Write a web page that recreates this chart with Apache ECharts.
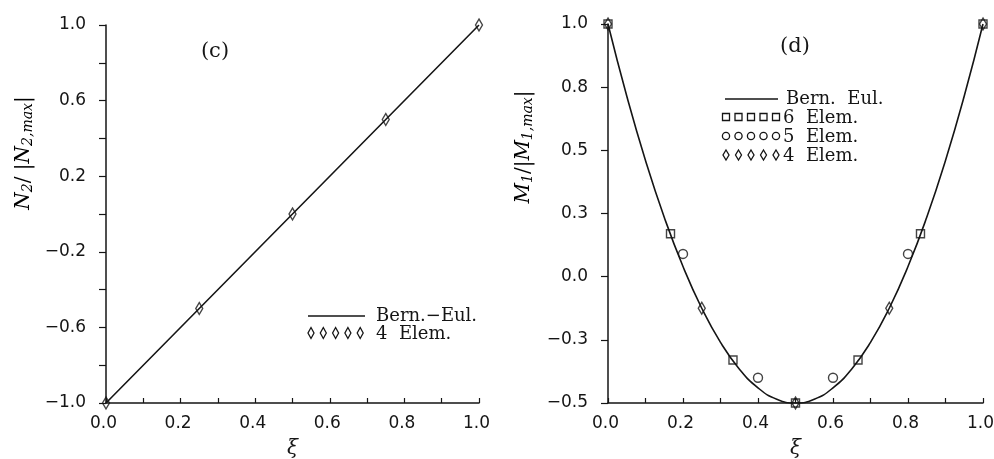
<!DOCTYPE html>
<html>
<head>
<meta charset="utf-8">
<script src="https://cdn.jsdelivr.net/npm/echarts@6/dist/echarts.min.js"></script>
<style>
  html, body { margin: 0; padding: 0; background: #fff; }
  #chart { width: 994px; height: 459px; }
</style>
</head>
<body>
<div id="chart"></div>
<script>
// ---- Panel (c): normalised normal force N2 along the beam ----
const xiC = [0.0, 0.25, 0.5, 0.75, 1.0];
const bernEulC = [-1.0, -0.5, 0.0, 0.5, 1.0];
const elem4C = [-1.0, -0.5, 0.0, 0.5, 1.0];

// ---- Panel (d): normalised bending moment M1 ----
const xiCurveD = [0.0, 0.05, 0.10, 0.15, 0.20, 0.25, 0.30, 0.35, 0.40, 0.45, 0.50,
                  0.55, 0.60, 0.65, 0.70, 0.75, 0.80, 0.85, 0.90, 0.95, 1.0];
const bernEulD = [1.0, 0.715, 0.46, 0.235, 0.04, -0.125, -0.26, -0.365, -0.44, -0.485, -0.5,
                  -0.485, -0.44, -0.365, -0.26, -0.125, 0.04, 0.235, 0.46, 0.715, 1.0];
const xi6 = [0.0, 0.1667, 0.3333, 0.5, 0.6667, 0.8333, 1.0];
const elem6D = [1.0, 0.17, -0.33, -0.5, -0.33, 0.17, 1.0];
const xi5 = [0.0, 0.2, 0.4, 0.6, 0.8, 1.0];
const elem5D = [1.04, 0.09, -0.40, -0.40, 0.09, 1.04];
const xi4 = [0.0, 0.25, 0.5, 0.75, 1.0];
const elem4D = [1.0, -0.125, -0.5, -0.125, 1.0];

// ---- Tick labels ----
const xTickLabels = ['0.0', '', '0.2', '', '0.4', '', '0.6', '', '0.8', '', '1.0'];
const yTickLabelsC = ['\u22121.0', '', '\u22120.6', '', '\u22120.2', '', '0.2', '', '0.6', '', '1.0'];
const yTickLabelsD = ['\u22120.5', '\u22120.3', '0.0', '0.3', '0.5', '0.8', '1.0'];

const INK = '#151515';
const pairs = (xs, ys) => xs.map((x, i) => [x, ys[i]]);

function xAxisCfg(gridIndex) {
  return {
    type: 'value', gridIndex, min: 0, max: 1, interval: 0.1,
    name: '\u03BE', nameLocation: 'middle', nameGap: 36,
    nameTextStyle: { fontFamily: 'DejaVu Serif', fontStyle: 'italic', fontSize: 20, color: INK },
    axisLine: { show: true, onZero: false, lineStyle: { color: INK, width: 1.5 } },
    axisTick: { show: true, inside: true, length: 5, lineStyle: { color: INK, width: 1.2 } },
    axisLabel: { margin: 12, fontFamily: 'DejaVu Sans', fontSize: 17, color: INK,
                 padding: [0, 5, 0, 0],
                 formatter: (v, i) => xTickLabels[i] },
    splitLine: { show: false }
  };
}

function yAxisCfg(gridIndex, min, max, interval, labels) {
  return {
    type: 'value', gridIndex, min, max, interval,
    axisLine: { show: true, onZero: false, lineStyle: { color: INK, width: 1.5 } },
    axisTick: { show: true, inside: false, length: 7, lineStyle: { color: INK, width: 1.2 } },
    axisLabel: { margin: 20, fontFamily: 'DejaVu Sans', fontSize: 17, color: INK,
                 formatter: (v, i) => labels[i] },
    splitLine: { show: false }
  };
}

const hollow = { color: 'rgba(0,0,0,0)', borderColor: INK, borderWidth: 1.4 };
const curveStyle = { color: INK, width: 1.6 };

// Legend symbol helpers (drawn as graphic shapes)
function diamondShape(cx, cy, w, h) {
  return { type: 'polygon', shape: { points: [[cx, cy - h / 2], [cx + w / 2, cy], [cx, cy + h / 2], [cx - w / 2, cy]] },
           style: { fill: 'none', stroke: INK, lineWidth: 1.3 } };
}
function squareShape(cx, cy, s) {
  return { type: 'rect', shape: { x: cx - s / 2, y: cy - s / 2, width: s, height: s },
           style: { fill: 'none', stroke: INK, lineWidth: 1.3 } };
}
function circleShape(cx, cy, r) {
  return { type: 'circle', shape: { cx, cy, r }, style: { fill: 'none', stroke: INK, lineWidth: 1.3 } };
}
function row(maker, x0, step, cy) {
  const out = [];
  for (let k = 0; k < 5; k++) out.push(maker(x0 + k * step, cy));
  return out;
}
const legendFont = { fontFamily: 'DejaVu Serif', fontSize: 18, fill: INK, verticalAlign: 'middle' };
function legendText(x, y, text) {
  return { type: 'text', x, y, style: Object.assign({ text }, legendFont) };
}
function line(x1, x2, y) {
  return { type: 'line', shape: { x1, y1: y, x2, y2: y }, style: { stroke: INK, lineWidth: 1.4 } };
}

const axisNameRich = {
  i: { fontFamily: 'DejaVu Serif', fontStyle: 'italic', fontSize: 20, color: INK },
  s: { fontFamily: 'DejaVu Serif', fontStyle: 'italic', fontSize: 14, color: INK, verticalAlign: 'bottom', padding: [9, 0, 0, 0] },
  n: { fontFamily: 'DejaVu Serif', fontSize: 20, color: INK }
};

const chart = echarts.init(document.getElementById('chart'));
chart.setOption({
  backgroundColor: '#ffffff',
  animation: false,
  grid: [
    { left: 106, top: 25, width: 373, height: 378, outerBoundsMode: 'none' },
    { left: 608, top: 24, width: 375, height: 379, outerBoundsMode: 'none' }
  ],
  xAxis: [xAxisCfg(0), xAxisCfg(1)],
  yAxis: [
    yAxisCfg(0, -1, 1, 0.2, yTickLabelsC),
    yAxisCfg(1, -0.5, 1, 0.25, yTickLabelsD)
  ],
  series: [
    { name: 'Bern.\u2212Eul.', type: 'line', xAxisIndex: 0, yAxisIndex: 0,
      data: pairs(xiC, bernEulC), showSymbol: false, lineStyle: curveStyle, z: 2 },
    { name: '4 Elem.', type: 'scatter', xAxisIndex: 0, yAxisIndex: 0,
      data: pairs(xiC, elem4C), symbol: 'diamond', symbolSize: [7, 12], itemStyle: hollow, z: 3 },

    { name: 'Bern. Eul.', type: 'line', xAxisIndex: 1, yAxisIndex: 1,
      data: pairs(xiCurveD, bernEulD), showSymbol: false, smooth: true, lineStyle: curveStyle, z: 2 },
    { name: '6 Elem.', type: 'scatter', xAxisIndex: 1, yAxisIndex: 1,
      data: pairs(xi6, elem6D), symbol: 'rect', symbolSize: 8, itemStyle: hollow, z: 3 },
    { name: '5 Elem.', type: 'scatter', xAxisIndex: 1, yAxisIndex: 1,
      data: pairs(xi5, elem5D), symbol: 'circle', symbolSize: 9, itemStyle: hollow, z: 3 },
    { name: '4 Elem. (d)', type: 'scatter', xAxisIndex: 1, yAxisIndex: 1,
      data: pairs(xi4, elem4D), symbol: 'diamond', symbolSize: [7, 12], itemStyle: hollow, z: 3 }
  ],
  graphic: [
    // panel captions
    { type: 'text', x: 215, y: 52, style: { text: '(c)', fontFamily: 'DejaVu Serif', fontSize: 21, fill: INK, align: 'center', verticalAlign: 'middle' } },
    { type: 'text', x: 795, y: 47, style: { text: '(d)', fontFamily: 'DejaVu Serif', fontSize: 21, fill: INK, align: 'center', verticalAlign: 'middle' } },

    // y-axis titles
    { type: 'text', x: 24, y: 153, rotation: Math.PI / 2,
      style: { text: '{i|N}{s|2}{n|/ |}{i|N}{s|2,max}{n||}', rich: axisNameRich, align: 'center', verticalAlign: 'middle' } },
    { type: 'text', x: 524, y: 147, rotation: Math.PI / 2,
      style: { text: '{i|M}{s|1}{n|/|}{i|M}{s|1,max}{n||}', rich: axisNameRich, align: 'center', verticalAlign: 'middle' } },

    // legend, panel (c)
    line(308, 365, 316),
    legendText(376, 316, 'Bern.\u2212Eul.'),
    ...row((x, y) => diamondShape(x, y, 6, 11), 311, 12.3, 333),
    legendText(376, 334, '4  Elem.'),

    // legend, panel (d)
    line(725, 778, 99),
    legendText(786, 99, 'Bern.  Eul.'),
    ...row((x, y) => squareShape(x, y, 7), 726, 12.5, 117),
    legendText(783, 118, '6  Elem.'),
    ...row((x, y) => circleShape(x, y, 3.6), 726, 12.5, 136),
    legendText(783, 137, '5  Elem.'),
    ...row((x, y) => diamondShape(x, y, 6, 10), 726, 12.5, 155),
    legendText(783, 156, '4  Elem.')
  ]
});
</script>
</body>
</html>
